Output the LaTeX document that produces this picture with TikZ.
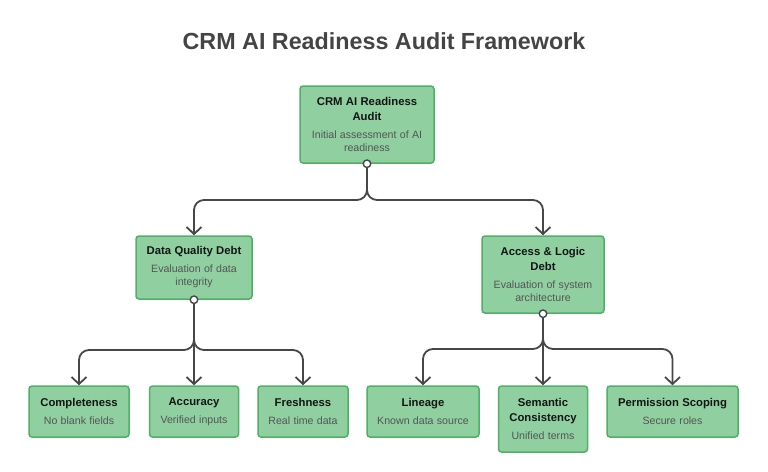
\documentclass[tikz,border=0pt]{standalone}
\usepackage{fontspec}
\setmainfont{Liberation Sans}
\usetikzlibrary{arrows.meta}
\definecolor{boxfill}{HTML}{8FCFA0}
\definecolor{boxline}{HTML}{4FB066}
\definecolor{conncol}{HTML}{474747}
\definecolor{titlecol}{HTML}{444444}
\definecolor{subcol}{HTML}{555555}
\definecolor{headcol}{HTML}{151515}
\newcommand{\boxtxt}[2]{{\fontsize{11.3pt}{15pt}\selectfont\bfseries\color{headcol}#1\par}\vspace{5pt}{\fontsize{10.6pt}{13pt}\selectfont\color{subcol}#2\par}}
\tikzset{
  box/.style={draw=boxline, fill=boxfill, line width=1.5pt, rounded corners=3pt, align=center, inner sep=0pt},
  conn/.style={draw=conncol, line width=1.8pt, rounded corners=10pt, -{Straight Barb[length=7pt,width=15pt]}},
  dotc/.style={circle, draw=conncol, fill=white, line width=1.4pt, minimum size=7.5pt, inner sep=0pt},
}
\begin{document}
\begin{tikzpicture}[x=1pt,y=-1pt]
\useasboundingbox (0,0) rectangle (768,471);
\node[font=\fontsize{23.3pt}{28pt}\selectfont\bfseries, text=titlecol] (title) at (384,41) {CRM AI Readiness Audit Framework};

\node[box, minimum width=134pt, minimum height=77pt, text width=130pt] (top) at (367,124.5) {\boxtxt{CRM AI Readiness\\Audit}{Initial assessment of AI\\readiness}};
\node[box, minimum width=116pt, minimum height=63pt, text width=112pt] (dq) at (194,267.5) {\boxtxt{Data Quality Debt}{Evaluation of data\\integrity}};
\node[box, minimum width=122pt, minimum height=77pt, text width=118pt] (al) at (543,274.5) {\boxtxt{Access \& Logic\\Debt}{Evaluation of system\\architecture}};

\node[box, minimum width=100pt, minimum height=51pt, text width=96pt] (comp) at (79,411.5) {\boxtxt{Completeness}{No blank fields}};
\node[box, minimum width=89pt, minimum height=51pt, text width=85pt] (acc) at (194,411.5) {\boxtxt{Accuracy}{Verified inputs}};
\node[box, minimum width=90pt, minimum height=51pt, text width=86pt] (fresh) at (303,411.5) {\boxtxt{Freshness}{Real time data}};
\node[box, minimum width=112pt, minimum height=51pt, text width=108pt] (lin) at (423,411.5) {\boxtxt{Lineage}{Known data source}};
\node[box, minimum width=89pt, minimum height=66pt, text width=85pt] (sem) at (543,419) {\boxtxt{Semantic\\Consistency}{Unified terms}};
\node[box, minimum width=131pt, minimum height=51pt, text width=127pt] (perm) at (672.5,411.5) {\boxtxt{Permission Scoping}{Secure roles}};

\coordinate (b1) at (0,200);
\coordinate (b2) at (0,350);
\coordinate (b3) at (0,349);

\draw[conn] (top.south) -- (top.south |- b1) -| (dq.north);
\draw[conn] (top.south) -- (top.south |- b1) -| (al.north);

\draw[conn] (dq.south) -- (dq.south |- b2) -| (comp.north);
\draw[conn] (dq.south) -- (acc.north);
\draw[conn] (dq.south) -- (dq.south |- b2) -| (fresh.north);

\draw[conn] (al.south) -- (al.south |- b3) -| (lin.north);
\draw[conn] (al.south) -- (sem.north);
\draw[conn] (al.south) -- (al.south |- b3) -| (perm.north);

\node[dotc] (d1) at (top.south) {};
\node[dotc] (d2) at (dq.south) {};
\node[dotc] (d3) at (al.south) {};
\end{tikzpicture}
\end{document}
